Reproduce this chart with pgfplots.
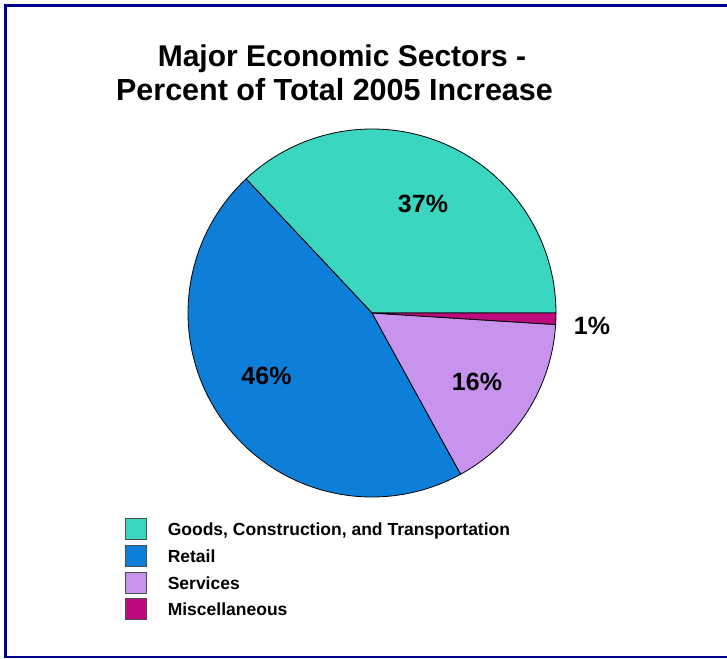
\documentclass[border=0pt]{standalone}
\usepackage{pgfplots}
\usepackage{pgfplotstable}
\pgfplotsset{compat=1.18}
\usepackage{fontspec}
\setmainfont{Liberation Sans}
\definecolor{goods}{RGB}{59,214,192}
\definecolor{retail}{RGB}{14,127,216}
\definecolor{services}{RGB}{200,147,236}
\definecolor{misc}{RGB}{187,11,125}
\definecolor{frame}{RGB}{0,0,140}
\pgfplotstableread{
sector value
Goods 37
Retail 46
Services 16
Misc 1
}\piedata
\pgfplotstablegetelem{0}{value}\of\piedata \let\vA\pgfplotsretval
\pgfplotstablegetelem{1}{value}\of\piedata \let\vB\pgfplotsretval
\pgfplotstablegetelem{2}{value}\of\piedata \let\vC\pgfplotsretval
\pgfplotstablegetelem{3}{value}\of\piedata \let\vD\pgfplotsretval
\pgfmathsetmacro{\aA}{3.6*\vA}
\pgfmathsetmacro{\aB}{\aA+3.6*\vB}
\pgfmathsetmacro{\aC}{\aB+3.6*\vC}
\pgfmathsetmacro{\aD}{\aC+3.6*\vD}
\begin{document}
\begin{tikzpicture}[x=1pt,y=1pt]
\useasboundingbox (0,0) rectangle (727,658);
\begin{axis}[
  at={(0,0)}, anchor=south west,
  width=727pt, height=658pt, scale only axis,
  xmin=0, xmax=727, ymin=0, ymax=658,
  hide axis, clip=false,
  legend style={at={(axis cs:125,140)}, anchor=north west, draw=none, fill=none,
    inner sep=0pt, outer sep=0pt, row sep=5pt, column sep=0pt,
    font=\fontsize{17.5}{20}\selectfont\bfseries,
    nodes={inner sep=0pt, anchor=west, text height=14pt, text depth=1pt}},
  legend cell align=left,
  legend image code/.code={\draw[#1, draw=black!70, line width=0.8pt] (0pt,-10.5pt) rectangle (21pt,10.5pt); \path (42pt,0pt);},
]
\addplot[fill=goods, draw=black, line width=0.8pt, domain=0:\aA, samples=120, variable=\t]
  ({372+184*cos(t)}, {345+184*sin(t)}) -- (axis cs:372,345) -- cycle;
\addlegendentry{Goods, Construction, and Transportation}
\addplot[fill=retail, draw=black, line width=0.8pt, domain=\aA:\aB, samples=140, variable=\t]
  ({372+184*cos(t)}, {345+184*sin(t)}) -- (axis cs:372,345) -- cycle;
\addlegendentry{Retail}
\addplot[fill=services, draw=black, line width=0.8pt, domain=\aB:\aC, samples=60, variable=\t]
  ({372+184*cos(t)}, {345+184*sin(t)}) -- (axis cs:372,345) -- cycle;
\addlegendentry{Services}
\addplot[fill=misc, draw=black, line width=0.8pt, domain=\aC:\aD, samples=10, variable=\t]
  ({372+184*cos(t)}, {345+184*sin(t)}) -- (axis cs:372,345) -- cycle;
\addlegendentry{Miscellaneous}
\node[anchor=base, font=\fontsize{30}{36}\selectfont\bfseries, inner sep=0pt] at (axis cs:342,591) {Major Economic Sectors -};
\node[anchor=base, font=\fontsize{30.5}{36}\selectfont\bfseries, inner sep=0pt] at (axis cs:334.5,557) {Percent of Total 2005 Increase};
\node[anchor=base, font=\fontsize{25}{30}\selectfont\bfseries, inner sep=0pt] at (axis cs:423,445) {37\%};
\node[anchor=base, font=\fontsize{25}{30}\selectfont\bfseries, inner sep=0pt] at (axis cs:266.5,273) {46\%};
\node[anchor=base, font=\fontsize{25}{30}\selectfont\bfseries, inner sep=0pt] at (axis cs:477,267) {16\%};
\node[anchor=base, font=\fontsize{25}{30}\selectfont\bfseries, inner sep=0pt] at (axis cs:592,323) {1\%};
\end{axis}
\draw[frame, line width=3pt] (5.5,0) -- (5.5,652.5) -- (727,652.5);
\draw[frame, line width=2pt] (5.5,1) -- (727,1);
\end{tikzpicture}
\end{document}
